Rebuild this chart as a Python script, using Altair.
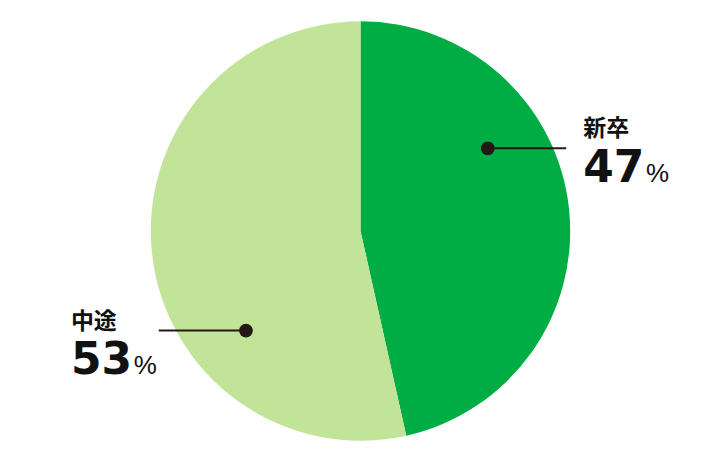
import math
import altair as alt
import pandas as pd

# ---- data ----
categories = ["新卒", "中途"]
shares = [46.5, 53.5]          # slice sizes as drawn
pct_labels = ["47", "53"]      # printed percentages
colors = ["#00AD45", "#C2E498"]

# ---- layout (pixels relative to the pie centre, y up) ----
W, H = 706, 446
R = 210
dot_polar = {"新卒": (57, 152), "中途": (229, 152)}   # angle (deg clockwise from top), radius
line_end_x = {"新卒": 206, "中途": -202}
label_x = {"新卒": 223, "中途": -290}
name_y = {"新卒": 102.5, "中途": -91}
num_y = {"新卒": 49, "中途": -143}
pct_gap = 63

pie_df = pd.DataFrame({"cat": categories, "value": shares, "order": range(len(categories))})

rows = []
for c, p in zip(categories, pct_labels):
    ang, rad = dot_polar[c]
    dx = rad * math.sin(math.radians(ang))
    dy = rad * math.cos(math.radians(ang))
    rows.append(dict(cat=c, dx=dx, dy=dy, lx=line_end_x[c], tx=label_x[c],
                     ny=name_y[c], uy=num_y[c], num=p, pct="%"))
ann = pd.DataFrame(rows)

xs = alt.Scale(domain=[-W / 2, W / 2])
ys = alt.Scale(domain=[-H / 2, H / 2])

pie = alt.Chart(pie_df).mark_arc(outerRadius=R).encode(
    theta=alt.Theta("value:Q", stack=True),
    order=alt.Order("order:Q"),
    color=alt.Color("cat:N", scale=alt.Scale(domain=categories, range=colors), legend=None),
)

base = alt.Chart(ann)
line = base.mark_rule(color="#231815", strokeWidth=2).encode(
    x=alt.X("dx:Q", scale=xs, axis=None),
    x2="lx:Q",
    y=alt.Y("dy:Q", scale=ys, axis=None),
)
dot = base.mark_circle(color="#231815", opacity=1, size=190).encode(
    x=alt.X("dx:Q", scale=xs, axis=None),
    y=alt.Y("dy:Q", scale=ys, axis=None),
)
name = base.mark_text(align="left", baseline="middle", font="Noto Sans CJK JP",
                      fontWeight="bold", fontSize=23, color="#111").encode(
    x=alt.X("tx:Q", scale=xs, axis=None),
    y=alt.Y("ny:Q", scale=ys, axis=None),
    text="cat:N",
)
num = base.mark_text(align="left", baseline="alphabetic", font="DejaVu Sans",
                     fontWeight="bold", fontSize=44, color="#111").encode(
    x=alt.X("tx:Q", scale=xs, axis=None),
    y=alt.Y("uy:Q", scale=ys, axis=None),
    text="num:N",
)
pct = base.mark_text(align="left", baseline="alphabetic", font="Liberation Sans",
                     fontSize=26, color="#111", dx=pct_gap).encode(
    x=alt.X("tx:Q", scale=xs, axis=None),
    y=alt.Y("uy:Q", scale=ys, axis=None),
    text="pct:N",
)

chart = alt.layer(pie, line, dot, name, num, pct).properties(
    width=W, height=H, padding=0
).configure_view(strokeWidth=0)

chart.save("out.html", embed_options={"renderer": "svg", "actions": False})
